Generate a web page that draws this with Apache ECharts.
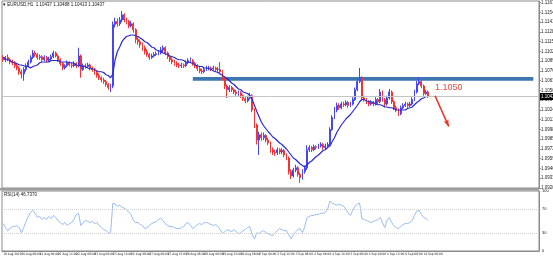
<!DOCTYPE html>
<html><head><meta charset="utf-8">
<script src="https://cdn.jsdelivr.net/npm/echarts@6/dist/echarts.min.js"></script>
<style>html,body{margin:0;padding:0;background:#fff;}#c{width:553px;height:259px;}</style>
</head><body><div id="c"></div>
<script>
const opens=[1.1094,1.1091,1.1094,1.1091,1.1088,1.1087,1.1083,1.1080,1.1075,1.1072,
1.1078,1.1083,1.1088,1.1094,1.1100,1.1098,1.1094,1.1095,1.1091,1.1094,
1.1090,1.1092,1.1095,1.1100,1.1096,1.1091,1.1086,1.1080,1.1083,1.1087,
1.1084,1.1083,1.1086,1.1083,1.1096,1.1078,1.1083,1.1082,1.1084,1.1080,
1.1078,1.1074,1.1070,1.1067,1.1064,1.1062,1.1058,1.1054,1.1056,1.1138,
1.1142,1.1139,1.1144,1.1151,1.1144,1.1142,1.1136,1.1139,1.1131,1.1118,
1.1115,1.1111,1.1107,1.1102,1.1098,1.1094,1.1096,1.1098,1.1099,1.1100,
1.1104,1.1107,1.1100,1.1095,1.1091,1.1088,1.1086,1.1084,1.1083,1.1084,
1.1083,1.1087,1.1090,1.1090,1.1086,1.1083,1.1079,1.1076,1.1075,1.1078,
1.1080,1.1080,1.1079,1.1080,1.1078,1.1078,1.1075,1.1067,1.1056,1.1051,
1.1054,1.1051,1.1048,1.1046,1.1047,1.1043,1.1039,1.1036,1.1040,1.1043,
1.1024,1.1004,1.0984,1.0991,1.0987,1.0990,1.0984,1.0980,1.0971,1.0968,
1.0967,1.0971,1.0968,1.0970,1.0964,1.0960,1.0942,1.0936,1.0944,1.0947,
1.0938,1.0934,1.0942,1.0947,1.0971,1.0974,1.0971,1.0975,1.0974,1.0976,
1.0978,1.0974,1.0976,1.0978,1.0998,1.1014,1.1024,1.1030,1.1027,1.1032,
1.1031,1.1034,1.1030,1.1032,1.1038,1.1051,1.1062,1.1067,1.1040,1.1038,
1.1035,1.1032,1.1034,1.1032,1.1038,1.1035,1.1048,1.1038,1.1032,1.1040,
1.1048,1.1035,1.1027,1.1024,1.1019,1.1027,1.1030,1.1032,1.1030,1.1032,
1.1038,1.1048,1.1059,1.1062,1.1056,1.1046,1.1048];
const highs=[1.1097,1.1096,1.1098,1.1093,1.1091,1.1089,1.1086,1.1082,1.1078,1.1081,
1.1086,1.1091,1.1097,1.1104,1.1103,1.1100,1.1098,1.1097,1.1097,1.1096,
1.1095,1.1098,1.1103,1.1102,1.1098,1.1093,1.1088,1.1085,1.1090,1.1089,
1.1087,1.1089,1.1088,1.1107,1.1098,1.1086,1.1086,1.1087,1.1086,1.1082,
1.1080,1.1077,1.1073,1.1069,1.1067,1.1064,1.1060,1.1059,1.1142,1.1147,
1.1146,1.1148,1.1156,1.1153,1.1147,1.1144,1.1143,1.1141,1.1133,1.1121,
1.1118,1.1114,1.1110,1.1105,1.1100,1.1099,1.1101,1.1102,1.1103,1.1108,
1.1110,1.1109,1.1102,1.1097,1.1094,1.1091,1.1089,1.1087,1.1087,1.1086,
1.1090,1.1093,1.1094,1.1092,1.1088,1.1085,1.1082,1.1079,1.1081,1.1083,
1.1083,1.1082,1.1083,1.1082,1.1081,1.1088,1.1077,1.1069,1.1058,1.1057,
1.1056,1.1053,1.1051,1.1050,1.1049,1.1045,1.1041,1.1043,1.1047,1.1045,
1.1026,1.1006,1.0995,1.0994,1.0994,1.0992,1.0987,1.0982,1.0974,1.0971,
1.0974,1.0973,1.0973,1.0972,1.0966,1.0962,1.0945,1.0947,1.0951,1.0949,
1.0941,1.0945,1.0950,1.0977,1.0977,1.0976,1.0978,1.0977,1.0979,1.0981,
1.0980,1.0979,1.0981,1.1001,1.1017,1.1028,1.1034,1.1033,1.1035,1.1035,
1.1037,1.1036,1.1035,1.1041,1.1054,1.1066,1.1080,1.1069,1.1043,1.1040,
1.1037,1.1037,1.1036,1.1041,1.1040,1.1052,1.1050,1.1040,1.1043,1.1052,
1.1050,1.1037,1.1030,1.1026,1.1030,1.1033,1.1035,1.1034,1.1035,1.1041,
1.1051,1.1063,1.1068,1.1064,1.1058,1.1051,1.1050];
const lows=[1.1088,1.1088,1.1089,1.1085,1.1084,1.1080,1.1077,1.1071,1.1066,1.1063,
1.1075,1.1081,1.1086,1.1092,1.1095,1.1091,1.1091,1.1088,1.1089,1.1087,
1.1088,1.1090,1.1093,1.1094,1.1088,1.1083,1.1077,1.1078,1.1081,1.1082,
1.1080,1.1081,1.1080,1.1081,1.1067,1.1076,1.1079,1.1080,1.1077,1.1075,
1.1071,1.1067,1.1064,1.1061,1.1059,1.1055,1.1051,1.1048,1.1053,1.1134,
1.1135,1.1136,1.1141,1.1141,1.1138,1.1133,1.1134,1.1127,1.1113,1.1111,
1.1107,1.1103,1.1098,1.1095,1.1091,1.1092,1.1094,1.1096,1.1097,1.1098,
1.1101,1.1097,1.1092,1.1088,1.1085,1.1083,1.1081,1.1080,1.1080,1.1080,
1.1081,1.1085,1.1087,1.1083,1.1080,1.1076,1.1073,1.1072,1.1073,1.1076,
1.1077,1.1076,1.1077,1.1075,1.1075,1.1072,1.1063,1.1052,1.1040,1.1048,
1.1048,1.1045,1.1043,1.1043,1.1040,1.1036,1.1033,1.1034,1.1038,1.1021,
1.1000,1.0978,1.0964,1.0983,1.0984,1.0981,1.0977,1.0967,1.0964,1.0963,
1.0964,1.0965,1.0965,1.0961,1.0957,1.0938,1.0932,1.0934,1.0941,1.0935,
1.0927,1.0931,1.0939,1.0944,1.0968,1.0968,1.0969,1.0971,1.0972,1.0974,
1.0971,1.0972,1.0974,1.0976,1.0996,1.1012,1.1021,1.1024,1.1025,1.1028,
1.1029,1.1027,1.1028,1.1030,1.1036,1.1049,1.1060,1.1037,1.1035,1.1032,
1.1029,1.1030,1.1029,1.1030,1.1032,1.1033,1.1035,1.1028,1.1030,1.1038,
1.1032,1.1024,1.1021,1.1016,1.1017,1.1025,1.1028,1.1027,1.1028,1.1030,
1.1036,1.1046,1.1057,1.1053,1.1043,1.1044,1.1040];
const closes=[1.1091,1.1094,1.1091,1.1088,1.1087,1.1083,1.1080,1.1075,1.1072,1.1078,
1.1083,1.1088,1.1094,1.1100,1.1098,1.1094,1.1095,1.1091,1.1094,1.1090,
1.1092,1.1095,1.1100,1.1096,1.1091,1.1086,1.1080,1.1083,1.1087,1.1084,
1.1083,1.1086,1.1083,1.1096,1.1078,1.1083,1.1082,1.1084,1.1080,1.1078,
1.1074,1.1070,1.1067,1.1064,1.1062,1.1058,1.1054,1.1056,1.1138,1.1142,
1.1139,1.1144,1.1151,1.1144,1.1142,1.1136,1.1139,1.1131,1.1118,1.1115,
1.1111,1.1107,1.1102,1.1098,1.1094,1.1096,1.1098,1.1099,1.1100,1.1104,
1.1107,1.1100,1.1095,1.1091,1.1088,1.1086,1.1084,1.1083,1.1084,1.1083,
1.1087,1.1090,1.1090,1.1086,1.1083,1.1079,1.1076,1.1075,1.1078,1.1080,
1.1080,1.1079,1.1080,1.1078,1.1078,1.1075,1.1067,1.1056,1.1051,1.1054,
1.1051,1.1048,1.1046,1.1047,1.1043,1.1039,1.1036,1.1040,1.1043,1.1024,
1.1004,1.0984,1.0991,1.0987,1.0990,1.0984,1.0980,1.0971,1.0968,1.0967,
1.0971,1.0968,1.0970,1.0964,1.0960,1.0942,1.0936,1.0944,1.0947,1.0938,
1.0934,1.0942,1.0947,1.0971,1.0974,1.0971,1.0975,1.0974,1.0976,1.0978,
1.0974,1.0976,1.0978,1.0998,1.1014,1.1024,1.1030,1.1027,1.1032,1.1031,
1.1034,1.1030,1.1032,1.1038,1.1051,1.1062,1.1067,1.1040,1.1038,1.1035,
1.1032,1.1034,1.1032,1.1038,1.1035,1.1048,1.1038,1.1032,1.1040,1.1048,
1.1035,1.1027,1.1024,1.1019,1.1027,1.1030,1.1032,1.1030,1.1032,1.1038,
1.1048,1.1059,1.1062,1.1056,1.1046,1.1048,1.1042];
const maValues=[1.1094,1.1092,1.1091,1.1090,1.1088,1.1087,1.1086,1.1084,1.1084,1.1083,
1.1082,1.1082,1.1080,1.1082,1.1083,1.1084,1.1087,1.1088,1.1088,1.1088,
1.1088,1.1090,1.1090,1.1090,1.1090,1.1088,1.1088,1.1088,1.1088,1.1087,
1.1087,1.1086,1.1084,1.1083,1.1083,1.1082,1.1082,1.1080,1.1079,1.1079,
1.1078,1.1076,1.1075,1.1075,1.1074,1.1071,1.1070,1.1067,1.1072,1.1091,
1.1102,1.1108,1.1115,1.1119,1.1122,1.1123,1.1124,1.1124,1.1123,1.1122,
1.1120,1.1118,1.1115,1.1114,1.1111,1.1108,1.1107,1.1104,1.1103,1.1102,
1.1100,1.1099,1.1098,1.1096,1.1095,1.1094,1.1092,1.1091,1.1091,1.1090,
1.1088,1.1088,1.1087,1.1086,1.1084,1.1083,1.1082,1.1082,1.1080,1.1080,
1.1079,1.1078,1.1076,1.1075,1.1074,1.1072,1.1070,1.1068,1.1066,1.1063,
1.1060,1.1058,1.1055,1.1052,1.1051,1.1048,1.1047,1.1046,1.1043,1.1038,
1.1030,1.1022,1.1015,1.1008,1.1003,1.0999,1.0995,1.0992,1.0988,1.0986,
1.0983,1.0980,1.0978,1.0975,1.0972,1.0968,1.0964,1.0960,1.0958,1.0955,
1.0952,1.0950,1.0948,1.0951,1.0954,1.0956,1.0959,1.0962,1.0964,1.0967,
1.0970,1.0971,1.0974,1.0976,1.0982,1.0987,1.0994,1.0999,1.1004,1.1008,
1.1012,1.1015,1.1018,1.1022,1.1026,1.1030,1.1035,1.1038,1.1038,1.1036,
1.1035,1.1035,1.1034,1.1032,1.1031,1.1031,1.1030,1.1028,1.1028,1.1027,
1.1027,1.1026,1.1024,1.1024,1.1024,1.1024,1.1024,1.1026,1.1027,1.1028,
1.1031,1.1034,1.1036,1.1039,1.1040,1.1042,1.1042];
const rsiValues=[45.8,39.0,33.9,37.3,40.7,40.7,42.4,39.0,30.5,39.0,
49.2,57.6,64.4,67.8,62.7,55.9,57.6,52.5,55.9,52.5,
57.6,54.2,59.3,55.9,50.8,47.5,44.1,47.5,42.4,45.8,
47.5,52.5,61.0,62.7,42.4,47.5,50.8,49.2,47.5,49.2,
45.8,47.5,42.4,39.0,35.6,33.9,30.5,28.8,79.7,78.0,
74.6,76.3,72.9,71.2,69.5,64.4,61.0,50.8,47.5,47.5,
44.1,42.4,37.3,39.0,42.4,45.8,47.5,49.2,52.5,54.2,
50.8,45.8,42.4,40.7,40.7,39.0,37.3,37.3,39.0,40.7,
45.8,47.5,42.4,37.3,40.7,44.1,45.8,44.1,47.5,47.5,
45.8,44.1,42.4,44.1,40.7,35.6,28.8,32.2,35.6,33.9,
32.2,35.6,32.2,28.8,30.5,33.9,35.6,39.0,40.7,27.1,
20.3,30.5,28.8,32.2,33.9,30.5,28.8,27.1,25.4,30.5,
33.9,37.3,35.6,33.9,33.9,27.1,20.3,27.1,32.2,35.6,
37.3,30.5,40.7,55.9,57.6,59.3,59.3,61.0,61.0,62.7,
62.7,64.4,69.5,83.1,79.7,78.0,76.3,78.0,76.3,74.6,
69.5,62.7,59.3,67.8,74.6,78.0,79.7,54.2,52.5,50.8,
49.2,47.5,49.2,50.8,52.5,55.9,47.5,39.0,50.8,55.9,
47.5,42.4,39.0,37.3,40.7,44.1,45.8,45.8,47.5,50.8,
59.3,66.1,67.8,61.0,55.9,54.2,50.8];
const xTickLabels=['19 Aug 2019','20 Aug 08:00','21 Aug 00:00','21 Aug 16:00','22 Aug 08:00','23 Aug 00:00','23 Aug 16:00','26 Aug 08:00','27 Aug 00:00','27 Aug 16:00','28 Aug 08:00','29 Aug 00:00','29 Aug 16:00','30 Aug 08:00','2 Sep 00:00','2 Sep 16:00','3 Sep 08:00','4 Sep 00:00','4 Sep 16:00','5 Sep 08:00','6 Sep 00:00','6 Sep 16:00','9 Sep 08:00','10 Sep 00:00'];
const rsiTickLabels=[0,30,70,100];
const rsiLevels=[30,70];
const slotCount=235;
const labelStep=8;
const priceMin=1.0920, priceMax=1.11693, priceStep=0.0013;
const currentPrice=1.1042;
const zoneLow=1.1063, zoneHigh=1.1068, zoneFrom=83, zoneTo=232;
const noteValue='1.1050', notePos=[195,1.1054];
const arrowFrom=[189,1.1043], arrowTo=[195,1.1002];
const headerText='\u25BE EURUSD,H1  1.10437 1.10488 1.10413 1.10437';
const rsiHeader='RSI(14) 46.7370';

const cats=Array.from({length:slotCount},(_, i)=>String(i));
const candleData=opens.map((o,i)=>[o,closes[i],lows[i],highs[i]]);
const FONT='Liberation Sans';
const NARROW="'Liberation Sans Narrow','DejaVu Sans Condensed','Liberation Sans'";
const chart=echarts.init(document.getElementById('c'),null,{renderer:'canvas'});
chart.setOption({
  animation:false,
  backgroundColor:'#ffffff',
  grid:[
    {left:2,top:1,width:537,height:187,show:true,borderColor:'#8a8a8a',borderWidth:1,outerBoundsMode:'none',containLabel:false},
    {left:2,top:191,width:537,height:60,show:true,borderColor:'#8a8a8a',borderWidth:1,outerBoundsMode:'none',containLabel:false}
  ],
  xAxis:[
    {type:'category',gridIndex:0,data:cats,show:false},
    {type:'category',gridIndex:1,data:cats,
     axisLine:{show:true,lineStyle:{color:'#8a8a8a'}},axisTick:{show:false},splitLine:{show:false},
     axisLabel:{interval:(i)=>i%labelStep===0 && i/labelStep<xTickLabels.length,hideOverlap:false,showMinLabel:true,
       formatter:(v)=>xTickLabels[Math.round(Number(v)/labelStep)]||'',
       fontSize:3.2,color:'#222',align:'left',margin:2,fontFamily:NARROW}}
  ],
  yAxis:[
    {type:'value',gridIndex:0,position:'right',min:priceMin,max:priceMax,interval:priceStep,
     axisLine:{show:true,lineStyle:{color:'#8a8a8a'}},axisTick:{show:true,length:2,lineStyle:{color:'#8a8a8a'}},
     splitLine:{show:false},
     axisLabel:{fontSize:4.5,color:'#222',margin:2,fontFamily:FONT,showMaxLabel:false,formatter:(v)=>v.toFixed(5)}},
    {type:'value',gridIndex:1,position:'right',min:0,max:100,interval:10,
     axisLine:{show:true,lineStyle:{color:'#8a8a8a'}},axisTick:{show:false},splitLine:{show:false},
     axisLabel:{fontSize:4,color:'#222',margin:3,fontFamily:FONT,formatter:(v)=>rsiTickLabels.includes(v)?String(v):''}}
  ],
  series:[
    {type:'line',name:'bid',xAxisIndex:0,yAxisIndex:0,data:closes,showSymbol:false,symbol:'none',
     lineStyle:{opacity:0},z:1,
     markLine:{silent:true,precision:5,symbol:['none','none'],
       lineStyle:{color:'#c4c4c4',type:'solid',width:1},
       label:{show:true,position:'end',formatter:currentPrice.toFixed(5),color:'#fff',backgroundColor:'#000',fontSize:4.5,padding:[1,1,1,1],distance:1,fontFamily:FONT},
       data:[{yAxis:currentPrice}]}
    },
    {type:'candlestick',xAxisIndex:0,yAxisIndex:0,data:candleData,barWidth:1.4,z:2,
     itemStyle:{color:'#4646f2',color0:'#f03434',borderColor:'#4646f2',borderColor0:'#f03434',borderWidth:1},
     markArea:{silent:true,itemStyle:{color:'#3d77b1',opacity:1},
       data:[[{xAxis:String(zoneFrom),yAxis:zoneHigh},{xAxis:String(zoneTo),yAxis:zoneLow}]]}
    },
    {type:'line',xAxisIndex:0,yAxisIndex:0,data:maValues,showSymbol:false,symbol:'none',
     lineStyle:{color:'#2a2acd',width:1.2},z:3,
     markLine:{silent:true,precision:5,symbol:['none','arrow'],symbolSize:[4,7],
       lineStyle:{color:'#e6352b',width:1.6,type:'solid'},label:{show:false},
       data:[[{coord:arrowFrom},{coord:arrowTo}]]},
     markPoint:{silent:true,symbol:'circle',symbolSize:0,
       label:{show:true,formatter:noteValue,color:'#e8493a',fontSize:9,fontFamily:FONT},
       data:[{coord:notePos}]}
    },
    {type:'line',xAxisIndex:1,yAxisIndex:1,data:rsiValues,showSymbol:false,symbol:'none',
     lineStyle:{color:'#8db6ec',width:0.9},
     markLine:{silent:true,precision:2,symbol:['none','none'],label:{show:false},
       lineStyle:{color:'#d0d0d0',type:'dotted',width:1},
       data:rsiLevels.map(v=>({yAxis:v}))}
    }
  ],
  graphic:[
    {type:'rect',shape:{x:0,y:188,width:539,height:2.5},style:{fill:'#9c9c9c'},silent:true},
    {type:'text',left:3,top:2,style:{text:headerText,fontSize:4.5,fill:'#111',fontFamily:FONT},silent:true},
    {type:'text',left:4,top:192.5,style:{text:rsiHeader,fontSize:4.5,fill:'#111',fontFamily:FONT},silent:true}
  ]
});
</script></body></html>
